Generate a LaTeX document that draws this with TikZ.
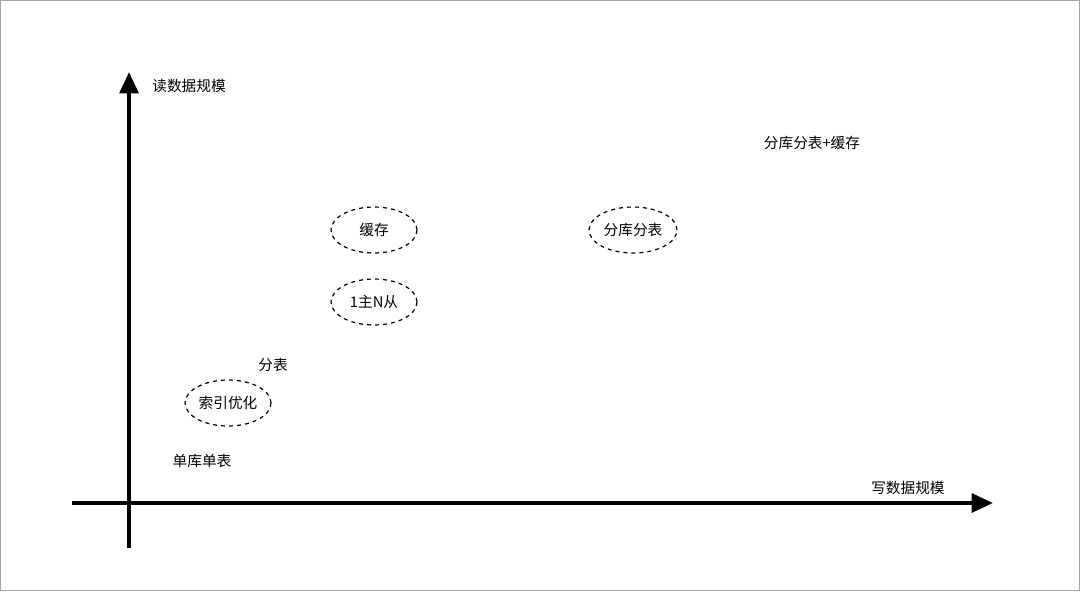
\documentclass[tikz,border=0pt]{standalone}
\usepackage{fontspec}
\setmainfont{Noto Sans CJK SC}
\usetikzlibrary{arrows.meta,shapes.geometric}
\begin{document}
\begin{tikzpicture}[x=0.75pt,y=-0.75pt,
  lbl/.style={font=\fontsize{11}{13}\selectfont,inner sep=0pt},
  oval/.style={draw,ellipse,dashed,line width=0.9pt,minimum width=86*0.75pt,minimum height=46*0.75pt,font=\fontsize{11}{13}\selectfont,inner sep=0pt},
  axis/.style={line width=3pt,-{Triangle[length=16pt,width=14pt]}}]
\draw[gray!70,line width=0.8pt] (0.5,0.5) rectangle (1079.5,590.5);
\coordinate (xs) at (72,503); \coordinate (xe) at (993,503);
\coordinate (ys) at (129,548); \coordinate (ye) at (129,72);
\draw[axis] (xs) -- (xe);
\draw[axis] (ys) -- (ye);
\node[lbl] (ry) at (189,86) {读数据规模};
\node[lbl] (wx) at (908,488) {写数据规模};
\node[lbl] (t1) at (812,143) {分库分表+缓存};
\node[oval] (c) at (374,230) {缓存};
\node[oval] (m) at (374,302) {1主N从};
\node[oval,minimum width=88*0.75pt] (f) at (633,230) {分库分表};
\node[lbl] (fb) at (273,365) {分表};
\node[oval] (s) at (228,403) {索引优化};
\node[lbl] (d) at (202,461) {单库单表};
\end{tikzpicture}
\end{document}
